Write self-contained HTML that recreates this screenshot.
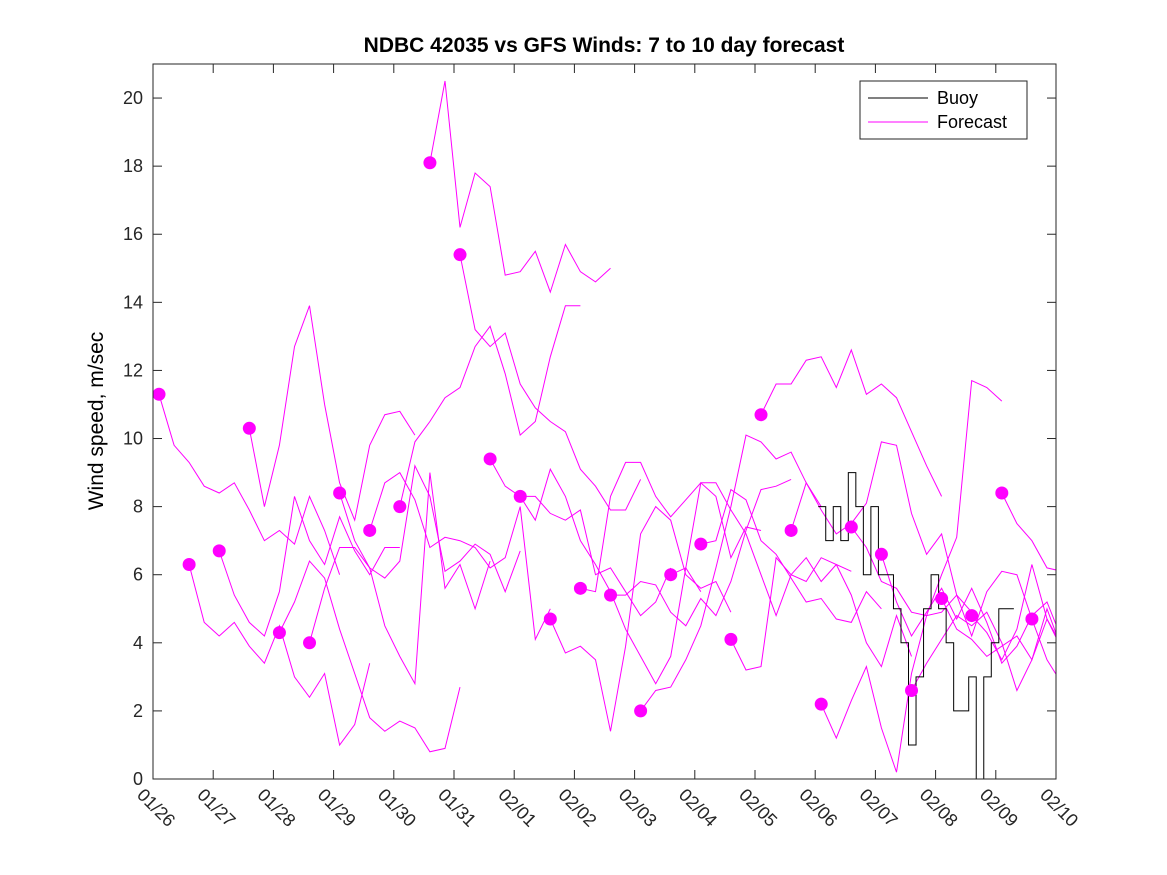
<!DOCTYPE html>
<html><head><meta charset="utf-8"><style>
body{margin:0;background:#fff;}
svg{display:block;font-family:"Liberation Sans",sans-serif;}
</style></head><body>
<svg id="chart" width="1167" height="875" xmlns="http://www.w3.org/2000/svg">
<rect width="1167" height="875" fill="#fff"/>
<defs><clipPath id="clip"><rect x="153" y="64" width="903" height="715"/></clipPath></defs>
<text x="604" y="52" text-anchor="middle" font-size="21" font-weight="bold">NDBC 42035 vs GFS Winds: 7 to 10 day forecast</text>
<text transform="translate(103,421) rotate(-90)" text-anchor="middle" font-size="21">Wind speed, m/sec</text>
<g id="axes"></g>
<g id="series" clip-path="url(#clip)"></g>
<g id="dots"></g>
<rect x="153" y="64" width="903" height="715" fill="none" stroke="#262626" stroke-width="1"/>
<g>
<rect x="860" y="81" width="167" height="58" fill="#fff" stroke="#262626"/>
<line x1="868" y1="98" x2="928" y2="98" stroke="#000"/>
<text x="937" y="104" font-size="18">Buoy</text>
<line x1="868" y1="122" x2="928" y2="122" stroke="#f0f"/>
<text x="937" y="128" font-size="18">Forecast</text>
</g>
</svg>
<script>
const xTicks=["01/26","01/27","01/28","01/29","01/30","01/31","02/01","02/02","02/03","02/04","02/05","02/06","02/07","02/08","02/09","02/10"];
const yTicks=[0,2,4,6,8,10,12,14,16,18,20];
const startDays=[0.1,0.6,1.1,1.6,2.1,2.6,3.1,3.6,4.1,4.6,5.1,5.6,6.1,6.6,7.1,7.6,8.1,8.6,9.1,9.6,10.1,10.6,11.1,11.6,12.1,12.6,13.1,13.6,14.1,14.6];
const forecastStep=0.25;
const forecasts=[
[11.3,9.8,9.3,8.6,8.4,8.7,7.9,7.0,7.3,6.9,8.3,7.3,6.0],
[6.3,4.6,4.2,4.6,3.9,3.4,4.5,3.0,2.4,3.1,1.0,1.6,3.4],
[6.7,5.4,4.6,4.2,5.5,8.3,7.0,6.3,7.7,6.7,6.0,6.8,6.8],
[10.3,8.0,9.8,12.7,13.9,11.0,8.7,7.6,9.8,10.7,10.8,10.1],
[4.3,5.2,6.4,5.9,4.4,3.1,1.8,1.4,1.7,1.5,0.8,0.9,2.7],
[4.0,5.6,6.8,6.8,6.2,4.5,3.6,2.8,9.0,5.6,6.3,5.0,6.4],
[8.4,7.0,6.2,5.9,6.4,9.2,8.3,6.1,6.4,6.9,6.6,5.5,6.7],
[7.3,8.7,9.0,8.2,6.8,7.1,7.0,6.8,6.2,6.5,8.0,4.1,5.0],
[8.0,9.9,10.5,11.2,11.5,12.7,13.3,11.9,10.1,10.5,12.4,13.9,13.9],
[18.1,20.5,16.2,17.8,17.4,14.8,14.9,15.5,14.3,15.7,14.9,14.6,15.0],
[15.4,13.2,12.7,13.1,11.6,10.9,10.5,10.2,9.1,8.6,7.9,7.9,8.8],
[9.4,8.6,8.3,8.3,7.8,7.6,7.9,6.0,6.2,5.5,4.8,5.2,6.2],
[8.3,7.6,9.1,8.3,7.0,6.3,5.5,4.4,3.6,2.8,3.6,6.2,5.5],
[4.7,3.7,3.9,3.5,1.4,3.9,7.2,8.0,7.6,6.0,5.6,5.8,4.9],
[5.6,5.5,8.3,9.3,9.3,8.3,7.7,8.2,8.7,8.3,6.5,7.4,7.3],
[5.4,5.4,5.8,5.7,4.9,4.5,5.3,4.8,5.8,7.3,8.5,8.6,8.8],
[2.0,2.6,2.7,3.5,4.5,6.2,8.0,10.1,9.9,9.4,9.6,8.7,8.0],
[6.0,6.2,8.7,8.7,7.9,7.2,6.0,4.8,6.0,6.5,5.8,6.3,6.1],
[6.9,7.0,8.5,8.2,7.0,6.6,5.9,5.2,5.3,4.7,4.6,5.5,5.0],
[4.1,3.2,3.3,6.5,6.0,5.8,6.5,6.3,5.4,4.0,3.3,4.8,3.6],
[10.7,11.6,11.6,12.3,12.4,11.5,12.6,11.3,11.6,11.2,10.2,9.2,8.3],
[7.3,8.7,7.9,7.2,7.5,8.1,9.9,9.8,7.8,6.6,7.2,5.4,4.9],
[2.2,1.2,2.3,3.3,1.5,0.2,3.1,4.8,6.0,7.1,11.7,11.5,11.1],
[7.4,6.8,5.8,5.6,4.9,4.8,4.9,5.4,4.2,5.5,6.1,6.0,4.7],
[6.6,5.2,4.2,4.9,5.6,4.7,5.6,4.6,3.4,3.9,4.8,5.2,4.1],
[2.6,3.4,4.1,4.8,4.5,4.9,4.0,2.6,3.5,5.0,3.8,1.5,2.3],
[5.3,4.4,4.1,3.6,3.9,4.2,3.5,4.7,3.8,2.7,4.0,4.5,4.2],
[4.8,4.3,3.5,4.4,6.3,4.7,3.9,1.9,3.3,2.5,4.2],
[8.4,7.5,7.0,6.2,6.1,10.0,8.0,6.3],
[4.7,3.5,2.8,6.5,9.3]
];
const buoyStart=11.05;
const buoyStep=0.125;
const buoy=[8,7,8,7,9,8,6,8,6,6,5,4,1,3,5,6,5,4,2,2,3,0,3,4,5,5];

const NS="http://www.w3.org/2000/svg";
const X0=153,X1=1056,Y0=779,Y1=64,YMAX=21,DAYS=15;
const xs=d=>X0+(X1-X0)*d/DAYS;
const ys=v=>Y0-(Y0-Y1)*v/YMAX;
function mk(tag,attrs,parent){const e=document.createElementNS(NS,tag);for(const k in attrs)e.setAttribute(k,attrs[k]);parent.appendChild(e);return e;}
const axes=document.getElementById('axes'),series=document.getElementById('series'),dots=document.getElementById('dots');
yTicks.forEach(v=>{
  const y=ys(v);
  const t1=mk('line',{x1:X0,y1:y,x2:X0+9,y2:y,stroke:'#262626'},axes);
  
  
  const t2=mk('line',{x1:X1-9,y1:y,x2:X1,y2:y,stroke:'#262626'},axes);
  
  
  const tx=mk('text',{x:X0-10,y:y+6,'text-anchor':'end','font-size':'18',fill:'#262626'},axes);
  tx.textContent=v;
  
  
});
xTicks.forEach((lab,i)=>{
  const x=xs(i);
  const t1=mk('line',{x1:x,y1:Y0,x2:x,y2:Y0-9,stroke:'#262626'},axes);
  
  
  const t2=mk('line',{x1:x,y1:Y1,x2:x,y2:Y1+9,stroke:'#262626'},axes);
  
  
  const tx=mk('text',{transform:`translate(${x-17},${Y0+17}) rotate(45)`,'font-size':'18',fill:'#262626'},axes);
  tx.textContent=lab;
  
  
});
forecasts.forEach((vals,i)=>{
  const pts=vals.map((v,j)=>xs(startDays[i]+j*forecastStep).toFixed(1)+','+ys(v).toFixed(1)).join(' ');
  const pl=mk('polyline',{points:pts,fill:'none',stroke:'#f0f','stroke-width':1},series);
  
  
  if(startDays[i]<DAYS){
    const c=mk('circle',{cx:xs(startDays[i]),cy:ys(vals[0]),r:6.5,fill:'#f0f'},dots);
    
    
  }
});
let bp=[];
buoy.forEach((v,j)=>{const xa=xs(buoyStart+j*buoyStep),xb=xs(buoyStart+(j+1)*buoyStep);bp.push(xa+','+ys(v),xb+','+ys(v));});
const bl=mk('polyline',{points:bp.join(' '),fill:'none',stroke:'#000','stroke-width':1},series);


</script>
</body></html>
